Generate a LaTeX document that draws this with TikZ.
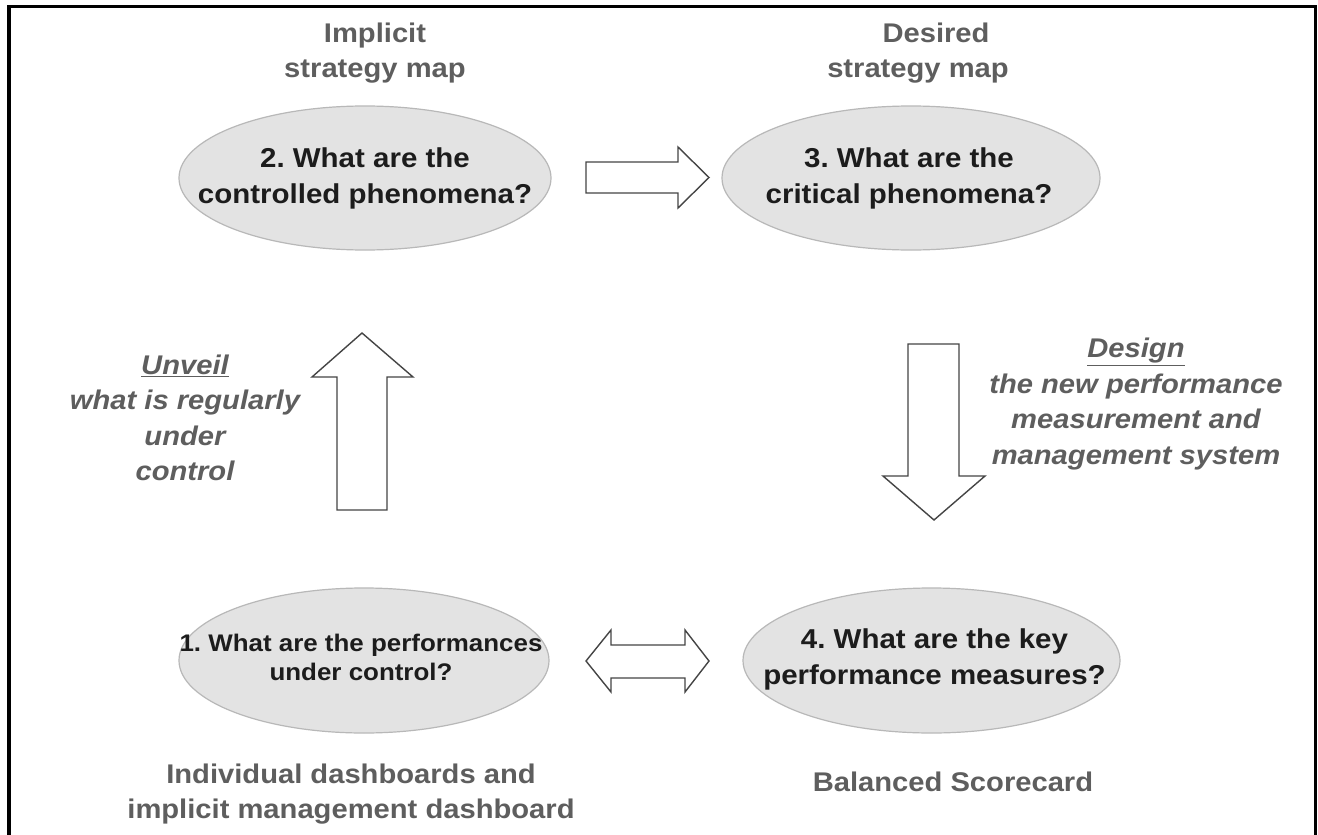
\documentclass[tikz,border=0pt]{standalone}
\usepackage{fontspec}
\setmainfont{Liberation Sans}[FakeStretch=1.08]
\usetikzlibrary{shapes.geometric}
\frenchspacing
\definecolor{lblgray}{HTML}{5E5E5E}
\definecolor{qcol}{HTML}{1C1C1C}
\definecolor{ellfill}{HTML}{E3E3E3}
\definecolor{ellline}{HTML}{B8B8B8}
\definecolor{arrline}{HTML}{454545}
\begin{document}
\begin{tikzpicture}[x=1pt,y=-1pt,
  ell/.style={ellipse, draw=ellline, fill=ellfill, line width=1.2pt, inner sep=0pt},
  qtext/.style={align=center, text=qcol, inner sep=0pt, font=\fontsize{27.3}{36}\selectfont\bfseries},
  qsmall/.style={align=center, text=qcol, inner sep=0pt, font=\fontsize{24}{29}\selectfont\bfseries},
  lbl/.style={align=center, text=lblgray, inner sep=0pt, font=\fontsize{27}{34.5}\selectfont\bfseries},
  actlbl/.style={align=center, text=lblgray, inner sep=0pt, font=\fontsize{27}{35.5}\selectfont\bfseries\itshape},
  blockarrow/.style={draw=arrline, fill=white, line width=1.4pt, line join=miter}
]
\useasboundingbox (0,0) rectangle (1318,835);
\fill[white] (0,0) rectangle (1318,835);
% frame
\draw[line width=3.6pt] (9,840) -- (9,6.5) -- (1315.5,6.5) -- (1315.5,840);

% ellipses
\node[ell, minimum width=372pt, minimum height=144pt] (e2) at (365,178) {};
\node[ell, minimum width=378pt, minimum height=144pt] (e3) at (911,178) {};
\node[ell, minimum width=370pt, minimum height=145pt] (e1) at (364,660.5) {};
\node[ell, minimum width=377pt, minimum height=145pt] (e4) at (931.5,660.5) {};

\node[qtext] (t2) at (e2) {2. What are the\\controlled phenomena?};
\node[qtext] (t3) at ([xshift=-2pt]e3.center) {3. What are the\\critical phenomena?};
\node[qsmall] (t1) at ([yshift=3pt,xshift=-3pt]e1.center) {1. What are the performances\\under control?};
\node[qtext] (t4) at ([xshift=3pt,yshift=1pt]e4.center) {4. What are the key\\performance measures?};

% labels
\node[lbl] (l2) at (375,53) {Implicit\\strategy map};
\node[lbl] (l3) at (918,53) {\hspace*{36pt}Desired\\strategy map};
\node[lbl] (l1) at (351,794) {Individual dashboards and\\implicit management dashboard};
\node[lbl] (l4) at (953,782) {Balanced Scorecard};

\node[actlbl] (a1) at (185,418) {\underline{Unveil}\\what is regularly\\under\\control};
\node[actlbl] (a2) at (1136,404) {\underline{Design}\\the new performance\\measurement and\\management system};

% block arrows
\draw[blockarrow] (586,162) -- (678,162) -- (678,147) -- (709,177.5) -- (678,208) -- (678,193) -- (586,193) -- cycle;
\draw[blockarrow] (337,510) -- (337,377) -- (312,377) -- (362,333) -- (413,377) -- (387,377) -- (387,510) -- cycle;
\draw[blockarrow] (908,344) -- (959,344) -- (959,476) -- (985,476) -- (934,520) -- (883,476) -- (908,476) -- cycle;
\draw[blockarrow] (586,661) -- (611,630) -- (611,645) -- (685,645) -- (685,630) -- (709,661) -- (685,692) -- (685,678) -- (611,678) -- (611,692) -- cycle;
\end{tikzpicture}
\end{document}
